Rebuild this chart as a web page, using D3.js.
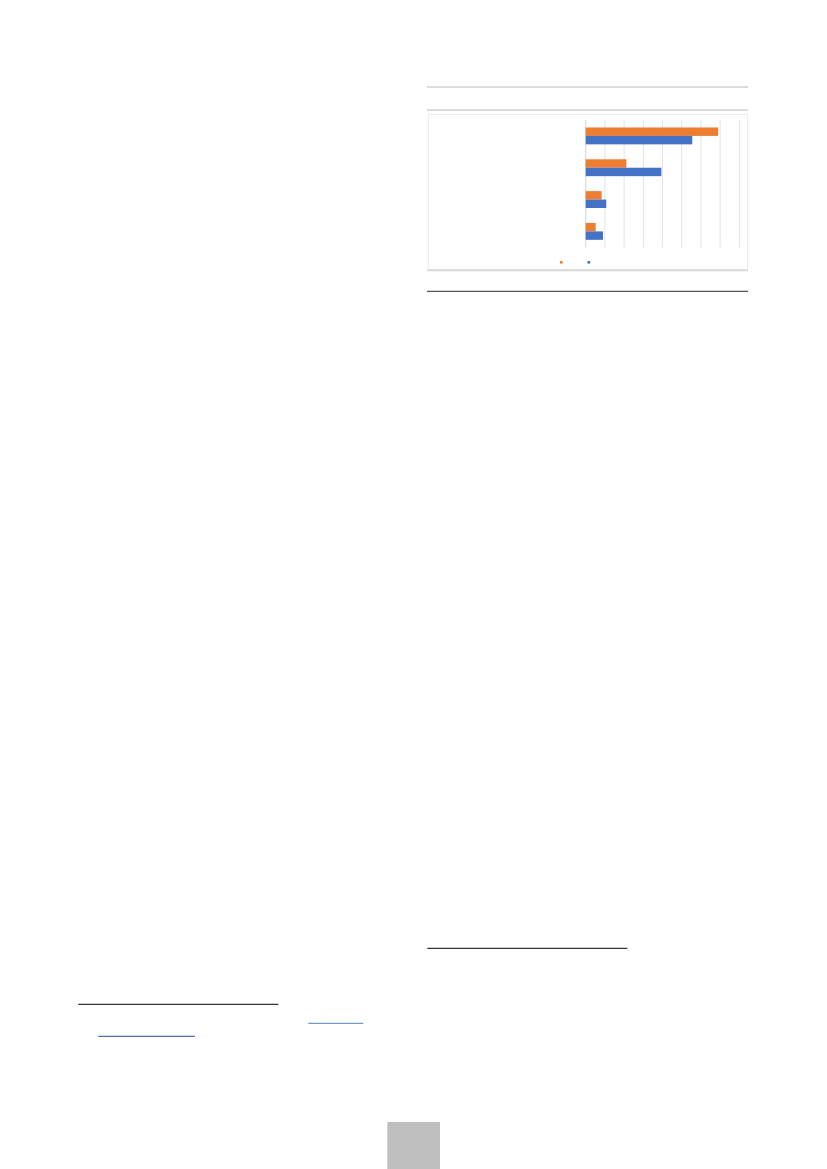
<!DOCTYPE html>
<html>
<head>
<meta charset="utf-8">
<script src="https://cdn.jsdelivr.net/npm/d3@7"></script>
<style>
  html, body { margin: 0; padding: 0; background: #ffffff; }
  svg { display: block; }
</style>
</head>
<body>
<svg id="page" width="827" height="1169"></svg>
<script>
// ---- data (category / series labels are not legible in the reference) ----
const categories = ["Category 1", "Category 2", "Category 3", "Category 4"];
const seriesNames = ["Series A", "Series B"];
const seriesA = [6.9, 2.12, 0.83, 0.52];   // orange
const seriesB = [5.55, 3.94, 1.07, 0.90];  // blue
const tickValues = [0, 1, 2, 3, 4, 5, 6, 7, 8];
const seriesColors = ["#ED7D31", "#4472C4"];

const svg = d3.select("#page");

// ---- page decoration ----
const deco = svg.append("g");
// rules above the chart
deco.append("line").attr("x1", 427).attr("x2", 748).attr("y1", 87).attr("y2", 87)
  .attr("stroke", "#dcdcdc").attr("stroke-width", 2);
deco.append("line").attr("x1", 427).attr("x2", 748).attr("y1", 110).attr("y2", 110)
  .attr("stroke", "#dcdcdc").attr("stroke-width", 2);
// chart frame
deco.append("rect").attr("x", 428.5).attr("y", 114.5).attr("width", 319).attr("height", 155.5)
  .attr("fill", "#ffffff").attr("stroke", "#ececec").attr("stroke-width", 1);
deco.append("line").attr("x1", 427).attr("x2", 748).attr("y1", 270.3).attr("y2", 270.3)
  .attr("stroke", "#dadada").attr("stroke-width", 2);
// dark rule under chart
deco.append("line").attr("x1", 427).attr("x2", 748).attr("y1", 291.3).attr("y2", 291.3)
  .attr("stroke", "#555555").attr("stroke-width", 1.3);
// footnote separators
deco.append("line").attr("x1", 427.3).attr("x2", 627.3).attr("y1", 948.3).attr("y2", 948.3)
  .attr("stroke", "#000000").attr("stroke-width", 1);
deco.append("line").attr("x1", 78.3).attr("x2", 278.3).attr("y1", 1004.3).attr("y2", 1004.3)
  .attr("stroke", "#000000").attr("stroke-width", 1);
// link underlines
deco.append("line").attr("x1", 308.3).attr("x2", 363.3).attr("y1", 1023.3).attr("y2", 1023.3)
  .attr("stroke", "#4f7fbf").attr("stroke-width", 1);
deco.append("line").attr("x1", 98.3).attr("x2", 195).attr("y1", 1036.3).attr("y2", 1036.3)
  .attr("stroke", "#1f4e8c").attr("stroke-width", 1);
// page-number box
deco.append("rect").attr("x", 387.3).attr("y", 1122).attr("width", 52.7).attr("height", 47)
  .attr("fill", "#bfbfbf");

// ---- chart ----
const x = d3.scaleLinear().domain([0, 8]).range([585.7, 739.3]);
const y = d3.scaleBand().domain(categories).range([120, 247.3])
  .paddingInner(0.47).paddingOuter(0.235);
const ySub = d3.scaleBand().domain(seriesNames).range([0, y.bandwidth()]);

const chart = svg.append("g");

// gridlines
chart.append("g").selectAll("line").data(tickValues).join("line")
  .attr("x1", d => x(d)).attr("x2", d => x(d))
  .attr("y1", 120).attr("y2", 247.3)
  .attr("stroke", d => d === 0 ? "#d4d4d4" : "#e3e3e3")
  .attr("stroke-width", 1);

const rows = categories.map((c, i) => ({ cat: c, values: [seriesA[i], seriesB[i]] }));

const groups = chart.append("g").selectAll("g").data(rows).join("g")
  .attr("transform", d => `translate(0,${y(d.cat)})`);

groups.selectAll("rect").data(d => d.values.map((v, j) => ({ v, s: seriesNames[j], j })))
  .join("rect")
  .attr("x", x(0))
  .attr("y", d => ySub(d.s))
  .attr("width", d => x(d.v) - x(0))
  .attr("height", ySub.bandwidth())
  .attr("fill", d => seriesColors[d.j]);

// legend markers (labels are not legible in the reference)
const legendX = [560, 587.5];
chart.append("g").selectAll("rect").data(seriesNames).join("rect")
  .attr("x", (d, i) => legendX[i]).attr("y", 261)
  .attr("width", 2.6).attr("height", 2.6)
  .attr("fill", (d, i) => seriesColors[i]);
</script>
</body>
</html>
